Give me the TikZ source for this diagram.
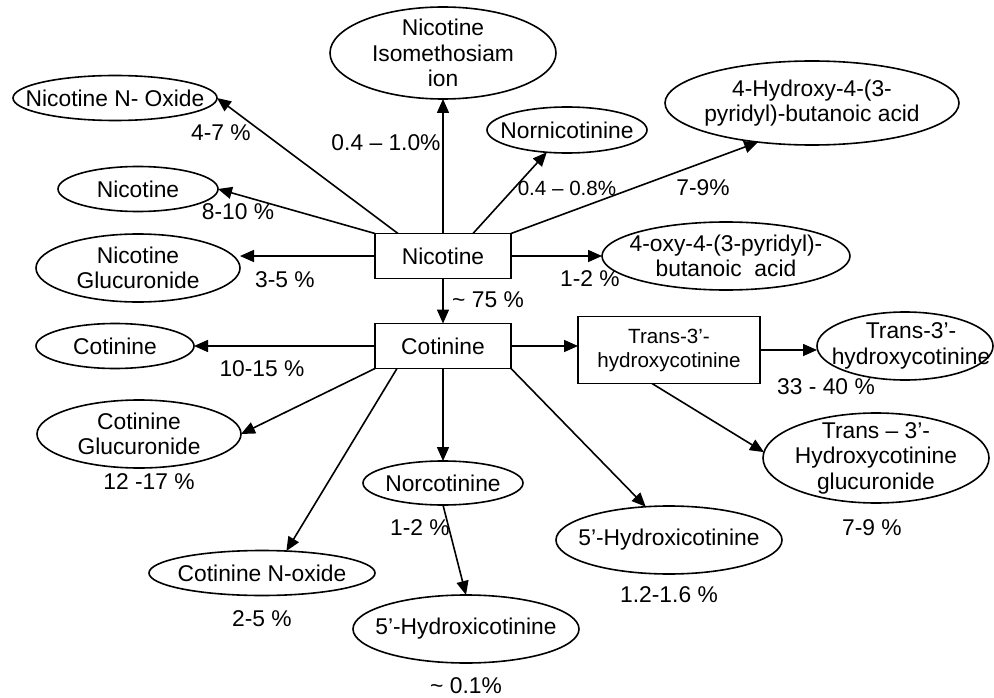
\documentclass[tikz,border=0pt]{standalone}
\usepackage{fontspec}
\setmainfont{Liberation Sans}
\usetikzlibrary{shapes.geometric,arrows.meta,calc}
\begin{document}
\begin{tikzpicture}[x=1pt,y=-1pt,
  font=\fontsize{22.8}{25.5}\selectfont,
  line width=1.6pt,
  ell/.style={draw, ellipse, inner sep=0pt, outer sep=0pt},
  box/.style={draw, rectangle, inner sep=0pt, outer sep=0pt, align=center},
  lbl/.style={inner sep=0pt, align=center},
  arr/.style={-{Triangle[length=14pt,width=12pt]}},
  small/.style={font=\fontsize{20.6}{24}\selectfont}
]
\fill[white] (0,0) rectangle (994,698);
\useasboundingbox (0,0) rectangle (994,698);

% boxes
\node[box, minimum width=136pt, minimum height=45pt] (nic) at (443,256) {Nicotine};
\node[box, minimum width=136pt, minimum height=45pt] (cot) at (443,346) {Cotinine};
\node[box, small, minimum width=182pt, minimum height=67pt] (trans) at (669,350) {Trans-3’-\\hydroxycotinine};

% ellipses
\node[ell, minimum width=226pt, minimum height=92pt, label={[lbl]center:Nicotine\\Isomethosiam\\ion}] (isom) at (443,53) {};
\node[ell, minimum width=204pt, minimum height=45pt, label={[lbl]center:Nicotine N- Oxide}] (noxide) at (115,98) {};
\node[ell, minimum width=160pt, minimum height=45pt, label={[lbl]center:Nicotine}] (nicel) at (138,189) {};
\node[ell, minimum width=204pt, minimum height=68pt, label={[lbl]center:Nicotine\\Glucuronide}] (nglu) at (138,268) {};
\node[ell, minimum width=160pt, minimum height=46pt, label={[lbl]center:Nornicotinine}] (norn) at (567,130) {};
\node[ell, minimum width=294pt, minimum height=84pt, label={[lbl]center:4-Hydroxy-4-(3-\\pyridyl)-butanoic acid}] (hy) at (812,103) {};
\node[ell, minimum width=248pt, minimum height=68pt, label={[lbl]center:4-oxy-4-(3-pyridyl)-\\butanoic\ \ acid}] (oxy) at (726,256) {};
\node[ell, minimum width=158pt, minimum height=45pt, label={[lbl]center:Cotinine}] (cotel) at (115,346) {};
\node[ell, minimum width=204pt, minimum height=68pt, label={[lbl]center:Cotinine\\Glucuronide}] (cglu) at (139,434) {};
\node[ell, minimum width=226pt, minimum height=45pt, label={[lbl]center:Cotinine N-oxide}] (cnox) at (262,573) {};
\node[ell, minimum width=160pt, minimum height=44pt, label={[lbl]center:Norcotinine}] (norc) at (443,483) {};
\node[ell, minimum width=226pt, minimum height=68pt, label={[lbl]center:5’-Hydroxicotinine}] (hyd5b) at (466,629) {};
\node[ell, minimum width=226pt, minimum height=68pt, label={[lbl]center:5’-Hydroxicotinine}] (hyd5r) at (669,540) {};
\node[ell, minimum width=176pt, minimum height=68pt, label={[lbl,xshift=6pt]center:Trans-3’-\\hydroxycotinine}] (t3) at (905,346) {};
\node[ell, minimum width=226pt, minimum height=90pt, label={[lbl]center:Trans – 3’-\\Hydroxycotinine\\glucuronide}] (t3g) at (876,458) {};

% percentages
\node[lbl] (l47) at (221,133) {4-7 \%};
\node[lbl] (l0410) at (386,143) {0.4 – 1.0\%};
\node[lbl] (l810) at (238,212) {8-10 \%};
\node[lbl] (l35) at (285,280) {3-5 \%};
\node[lbl, small] (l0408) at (567,188) {0.4 – 0.8\%};
\node[lbl] (l79a) at (703,188) {7-9\%};
\node[lbl] (l12a) at (590,279) {1-2 \%};
\node[lbl] (l75) at (488,300) {\textasciitilde{} 75 \%};
\node[lbl] (l1015) at (262,369) {10-15 \%};
\node[lbl] (l1217) at (149,482) {12 -17 \%};
\node[lbl] (l25) at (262,619) {2-5 \%};
\node[lbl] (l12b) at (420,528) {1-2 \%};
\node[lbl] (l01) at (466,686) {\textasciitilde{} 0.1\%};
\node[lbl] (l3340) at (826,387) {33 - 40 \%};
\node[lbl] (l79b) at (872,528) {7-9 \%};
\node[lbl] (l1216) at (669,595) {1.2-1.6 \%};

% connectors
\draw[arr] ([xshift=23pt]nic.north west) -- (noxide.east);
\draw[arr] (nic.north) -- (isom.south);
\draw[arr] (nic.north west) -- (nicel.east);
\draw[arr] (nic.west) -- (nic.west -| nglu.east);
\draw[arr] ([xshift=-38pt]nic.north east) -- (norn);
\draw[arr] (nic.north east) -- (hy.216);
\draw[arr] (nic.east) -- (oxy.west);
\draw[arr] (nic.south) -- (cot.north);
\draw[arr] (cot.west) -- (cotel.east);
\draw[arr] (cot.south west) -- (cglu.east);
\draw[arr] ([xshift=22pt]cot.south west) -- (cnox.42.5);
\draw[arr] (cot.south) -- (norc.north);
\draw[arr] (norc.south) -- (hyd5b.north);
\draw[arr] (cot.south east) -- (hyd5r.125);
\draw[arr] (cot.east) -- (cot.east -| trans.west);
\draw[arr] (trans.east) -- (trans.east -| t3.west);
\draw[arr] ([xshift=-17pt]trans.south) -- (t3g.177);
\end{tikzpicture}
\end{document}
